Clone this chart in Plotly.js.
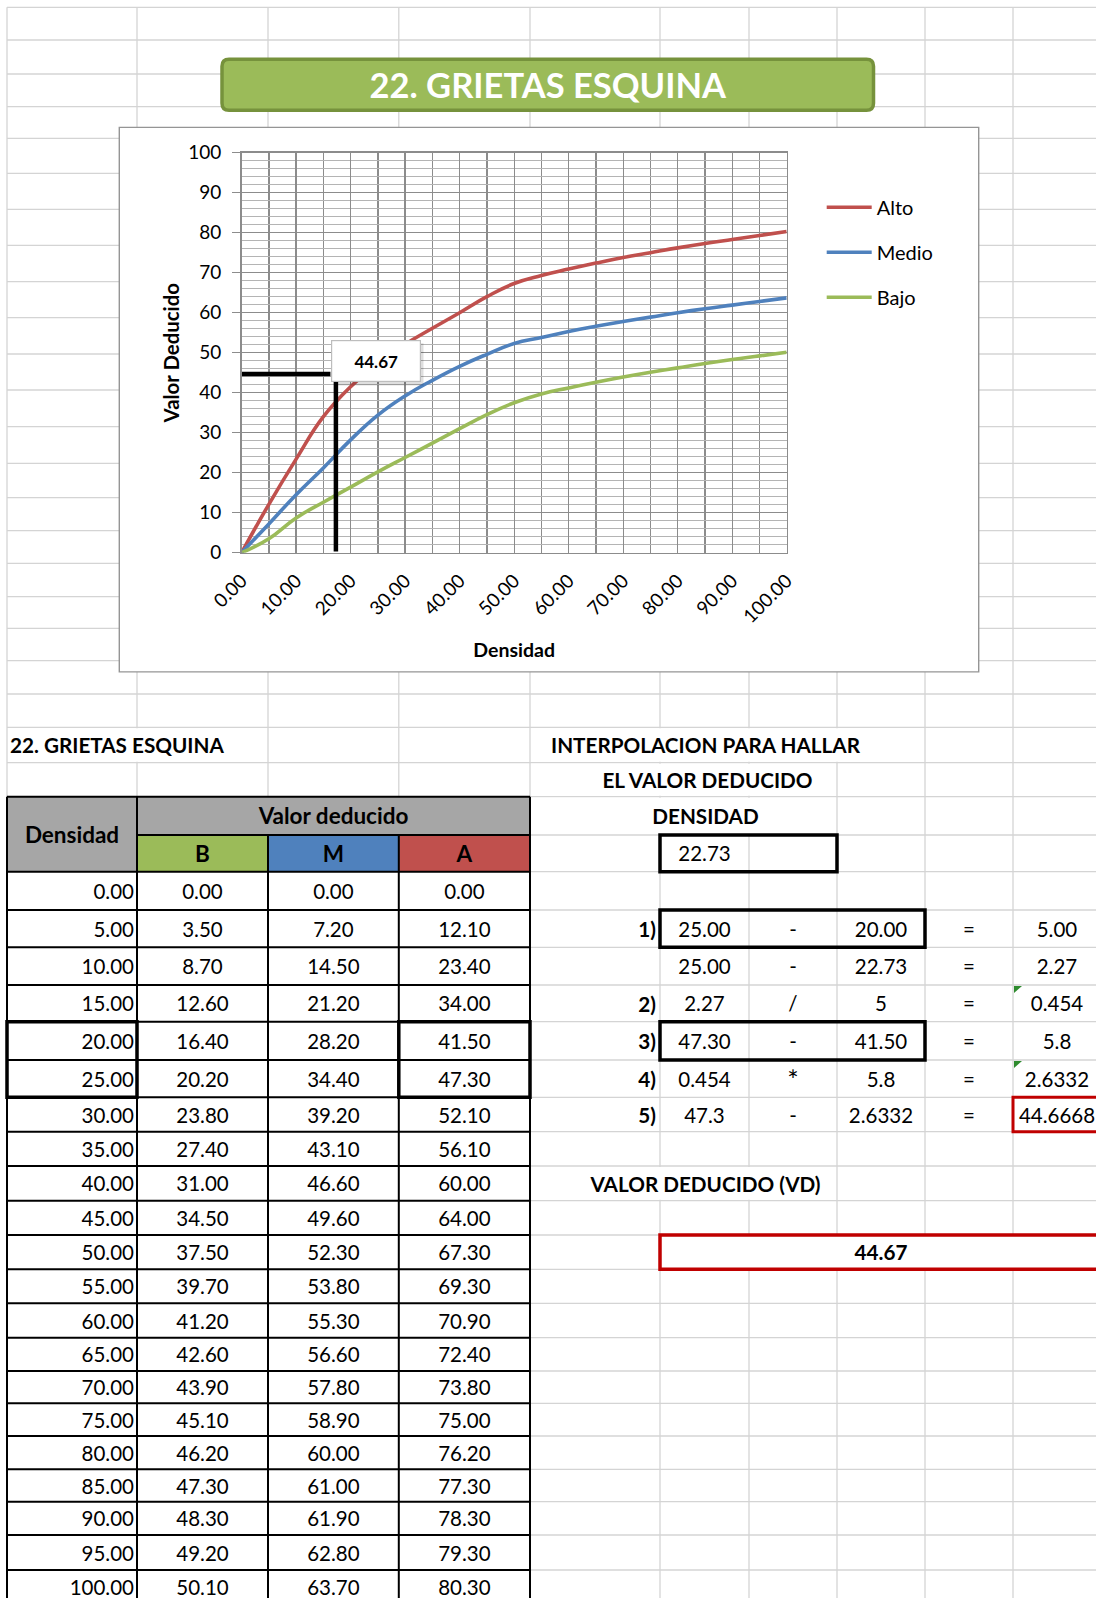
<!DOCTYPE html>
<html>
<head>
<meta charset="utf-8">
<script src="https://cdn.plot.ly/plotly-3.0.1.min.js"></script>
<style>html,body{margin:0;padding:0;background:#fff;}#chart{width:1096px;height:1598px;}</style>
</head>
<body>
<div id="chart"></div>
<script>
// ================= DATA =================
const densidad = [0, 5, 10, 15, 20, 25, 30, 35, 40, 45, 50, 55, 60, 65, 70, 75, 80, 85, 90, 95, 100];
const bajo  = [0.00, 3.50, 8.70, 12.60, 16.40, 20.20, 23.80, 27.40, 31.00, 34.50, 37.50, 39.70, 41.20, 42.60, 43.90, 45.10, 46.20, 47.30, 48.30, 49.20, 50.10];
const medio = [0.00, 7.20, 14.50, 21.20, 28.20, 34.40, 39.20, 43.10, 46.60, 49.60, 52.30, 53.80, 55.30, 56.60, 57.80, 58.90, 60.00, 61.00, 61.90, 62.80, 63.70];
const alto  = [0.00, 12.10, 23.40, 34.00, 41.50, 47.30, 52.10, 56.10, 60.00, 64.00, 67.30, 69.30, 70.90, 72.40, 73.80, 75.00, 76.20, 77.30, 78.30, 79.30, 80.30];

const seriesNames = ['Alto', 'Medio', 'Bajo'];
const xTickVals = [0, 10, 20, 30, 40, 50, 60, 70, 80, 90, 100];
const xTickText = ['0.00', '10.00', '20.00', '30.00', '40.00', '50.00', '60.00', '70.00', '80.00', '90.00', '100.00'];
const yTickVals = [0, 10, 20, 30, 40, 50, 60, 70, 80, 90, 100];
const chartTitle = '22. GRIETAS ESQUINA';
const xTitle = 'Densidad';
const yTitle = 'Valor Deducido';

// interpolation guide drawn on the chart
const vdValue = 44.67;
const vdLabel = '44.67';
const guideHX = [0, 16.3];
const guideVX = [17.3, 17.3];
const guideVY = [0.3, 43.4];
const labelAt = [24.7, 47.8];

// spreadsheet texts
const tableTitle = '22. GRIETAS ESQUINA';
const headDensidad = 'Densidad';
const headValor = 'Valor deducido';
const headCols = ['B', 'M', 'A'];
const interpTitles = ['INTERPOLACION PARA HALLAR', 'EL VALOR DEDUCIDO', 'DENSIDAD'];
const densValue = '22.73';
const stepLabels = ['1)', '', '2)', '3)', '4)', '5)'];
const stepA  = ['25.00', '25.00', '2.27', '47.30', '0.454', '47.3'];
const stepOp = ['-', '-', '/', '-', '*', '-'];
const stepB  = ['20.00', '22.73', '5', '41.50', '5.8', '2.6332'];
const stepEq = ['=', '=', '=', '=', '=', '='];
const stepR  = ['5.00', '2.27', '0.454', '5.8', '2.6332', '44.6668'];
const vdTitle = 'VALOR DEDUCIDO (VD)';
const vdResult = '44.67';

// ================= LAYOUT GEOMETRY (pixels) =================
const W = 1096, H = 1598;
const colX = [7, 137, 268, 398.8, 530, 660, 749, 837, 925, 1013, 1101];
const rowY = [7.3, 40, 74, 106.7, 138.3, 173.3, 209.3, 245.3, 281.7, 317.7, 354, 390, 426.7, 463.3, 497.7, 530.7,
  563.3, 596.7, 628.3, 660.7, 694, 727.3, 762.7, 796.7, 835, 871.7, 910, 947.3, 985, 1021.7, 1060, 1097.3, 1131.7,
  1166, 1200.7, 1235, 1269.3, 1303.3, 1337.7, 1371, 1403.3, 1436, 1469.3, 1501.7, 1535, 1570, 1604];
const R_TITLE = 21, R_HEAD = 23, R_SUB = 24, R_DATA = 25, R_VDT = 33, R_VD = 35;
const plotBox = {l: 241.6, r: 786.7, t: 152.7, b: 552.7};
const frame = {l: 119.3, r: 978.7, t: 127.4, b: 671.9};
const banner = {l: 222, r: 873.5, t: 59.3, b: 110.3, rad: 7};
const labelBox = {l: 331.7, r: 421, t: 340.7, b: 383};
const TEXT_DY = 3;

const FONT = 'Lato';
const C_ALTO = '#C0504D', C_MEDIO = '#4F81BD', C_BAJO = '#9BBB59';
const GRID = '#d4d4d4', MAJ = '#8c8c8c', MIN = '#b4b4b4', AX = '#8c8c8c';

// ================= SHAPES =================
const shapes = [];
function ln(x0, y0, x1, y1, color, width) {
  shapes.push({type: 'line', xref: 'x', yref: 'y', x0, y0, x1, y1, line: {color, width}, layer: 'below'});
}
function rc(x0, y0, x1, y1, fill, color, width, layer) {
  shapes.push({type: 'rect', xref: 'x', yref: 'y', x0, y0, x1, y1, fillcolor: fill || 'rgba(0,0,0,0)',
    line: {color: color || 'rgba(0,0,0,0)', width: width || 0}, layer: layer || 'below'});
}
function pth(d, fill, color, width) {
  shapes.push({type: 'path', xref: 'x', yref: 'y', path: d, fillcolor: fill, line: {color: color || 'rgba(0,0,0,0)', width: width || 0}, layer: 'below'});
}
const mid = (a, b) => (a + b) / 2;

// spreadsheet gridlines
rowY.forEach(y => { if (y < H) ln(colX[0], y, W, y, GRID, 1.3); });
colX.forEach(x => { if (x < W) ln(x, rowY[0], x, H, GRID, 1.3); });

// overflowing / merged text cells hide gridlines
rc(colX[0] + 1, rowY[R_TITLE] + 1, colX[2] - 1, rowY[R_TITLE + 1] - 1, '#fff');
rc(colX[4] + 1, rowY[R_TITLE] + 1, colX[8] - 1, rowY[R_TITLE + 1] - 1, '#fff');
rc(colX[4] + 1, rowY[R_TITLE + 1] + 1, colX[7] - 1, rowY[R_TITLE + 2] - 1, '#fff');
rc(colX[4] + 1, rowY[R_HEAD] + 1, colX[7] - 1, rowY[R_HEAD + 1] - 1, '#fff');
rc(colX[4] + 1, rowY[R_VDT] + 1, colX[7] - 1, rowY[R_VDT + 1] - 1, '#fff');

// chart frame
rc(frame.l, frame.t, frame.r, frame.b, '#ffffff', '#959595', 1.4);

// title banner (rounded)
(function () {
  const {l, r, t, b, rad} = banner;
  pth(`M${l + rad},${t} L${r - rad},${t} Q${r},${t} ${r},${t + rad} L${r},${b - rad} Q${r},${b} ${r - rad},${b} ` +
      `L${l + rad},${b} Q${l},${b} ${l},${b - rad} L${l},${t + rad} Q${l},${t} ${l + rad},${t} Z`,
      '#9BBB59', '#76923C', 3.5);
})();

// soft shadow behind the chart's data label
rc(labelBox.l + 2.5, labelBox.t + 2.5, labelBox.r + 2.5, labelBox.b + 2.5, 'rgba(0,0,0,0.13)', null, 0, 'above');

// table header fills
rc(colX[0], rowY[R_HEAD], colX[1], rowY[R_DATA], '#A6A6A6');
rc(colX[1], rowY[R_HEAD], colX[4], rowY[R_SUB], '#A6A6A6');
rc(colX[1], rowY[R_SUB], colX[2], rowY[R_DATA], C_BAJO);
rc(colX[2], rowY[R_SUB], colX[3], rowY[R_DATA], C_MEDIO);
rc(colX[3], rowY[R_SUB], colX[4], rowY[R_DATA], C_ALTO);
rc(colX[0], rowY[R_DATA], colX[4], H + 10, '#ffffff');

// table borders
const TB = '#000', TW = 2;
ln(colX[0], rowY[R_HEAD], colX[4], rowY[R_HEAD], TB, TW);
ln(colX[1], rowY[R_SUB], colX[4], rowY[R_SUB], TB, TW);
for (let i = 0; i <= densidad.length; i++) {
  const y = rowY[R_DATA + i];
  if (y < H) ln(colX[0], y, colX[4], y, TB, TW);
}
[0, 1, 4].forEach(c => ln(colX[c], rowY[R_HEAD], colX[c], H + 5, TB, TW));
[2, 3].forEach(c => ln(colX[c], rowY[R_SUB], colX[c], H + 5, TB, TW));
// thick boxes around the rows used for interpolation
rc(colX[0], rowY[R_DATA + 4], colX[1], rowY[R_DATA + 6], null, TB, 3.5);
rc(colX[3], rowY[R_DATA + 4], colX[4], rowY[R_DATA + 6], null, TB, 3.5);

// interpolation boxes
rc(colX[5], rowY[R_SUB], colX[7], rowY[R_DATA], null, TB, 3.5);
[0, 3].forEach(i => rc(colX[5], rowY[R_DATA + 1 + i], colX[8], rowY[R_DATA + 2 + i], null, TB, 3.5));
rc(colX[9], rowY[R_DATA + 6], W + 10, rowY[R_DATA + 7], null, '#C00000', 3);
rc(colX[5], rowY[R_VD], W + 10, rowY[R_VD + 1], '#ffffff', '#C00000', 3.5);
// green error indicators
[2, 4].forEach(i => {
  const x0 = colX[9] + 1, y0 = rowY[R_DATA + 1 + i] + 1;
  pth(`M${x0},${y0} L${x0 + 8},${y0} L${x0},${y0 + 7} Z`, '#2E8B2E');
});

// ================= TEXT TRACES (spreadsheet) =================
function textTrace(items, font) {
  return {type: 'scatter', mode: 'text', xaxis: 'x', yaxis: 'y', cliponaxis: false,
    x: items.map(d => d.x), y: items.map(d => d.y + TEXT_DY + (d.dy || 0)), text: items.map(d => d.t),
    textposition: items.map(d => d.p || 'middle center'),
    textfont: Object.assign({}, font, {size: items.map(d => d.s || font.size)}),
    marker: {size: 0}, hoverinfo: 'skip', showlegend: false};
}
const rowMid = r => mid(rowY[r], rowY[r + 1]);
const colMid = c => mid(colX[c], colX[c + 1]);
const IX = 705.5;

const headItems = [
  {x: mid(colX[0], colX[1]), y: mid(rowY[R_HEAD], rowY[R_DATA]), t: headDensidad},
  {x: mid(colX[1], colX[4]), y: rowMid(R_HEAD), t: headValor},
  {x: colMid(1), y: rowMid(R_SUB), t: headCols[0]},
  {x: colMid(2), y: rowMid(R_SUB), t: headCols[1]},
  {x: colMid(3), y: rowMid(R_SUB), t: headCols[2]}
];
const boldItems = [
  {x: 10, y: rowMid(R_TITLE), t: tableTitle, p: 'middle right'},
  {x: IX, y: rowMid(R_TITLE), t: interpTitles[0]},
  {x: IX + 2, y: rowMid(R_TITLE + 1), t: interpTitles[1]},
  {x: IX, y: rowMid(R_HEAD), t: interpTitles[2]},
  {x: IX, y: rowMid(R_VDT), t: vdTitle},
  {x: colMid(7), y: rowMid(R_VD), t: vdResult}
];
stepLabels.forEach((s, i) => { if (s) boldItems.push({x: colX[5] - 4, y: rowMid(R_DATA + 1 + i), t: s, p: 'middle left'}); });

const regItems = [];
densidad.forEach((d, i) => {
  const y = rowMid(R_DATA + i);
  regItems.push({x: colX[1] - 3, y, t: d.toFixed(2), p: 'middle left'});
  regItems.push({x: colMid(1), y, t: bajo[i].toFixed(2)});
  regItems.push({x: colMid(2), y, t: medio[i].toFixed(2)});
  regItems.push({x: colMid(3), y, t: alto[i].toFixed(2)});
});
regItems.push({x: colMid(5), y: rowMid(R_SUB), t: densValue});
stepA.forEach((v, i) => {
  const y = rowMid(R_DATA + 1 + i);
  regItems.push({x: colMid(5), y, t: stepA[i]});
  const isStar = stepOp[i] === '*';
  regItems.push({x: colMid(6), y, t: stepOp[i], s: isStar ? 27 : undefined, dy: isStar ? 2 : 0});
  regItems.push({x: colMid(7), y, t: stepB[i]});
  regItems.push({x: colMid(8), y, t: stepEq[i]});
  regItems.push({x: colMid(9), y, t: stepR[i]});
});

// ================= CHART TRACES =================
const chartLine = (y, name, color, grp) => ({
  type: 'scatter', mode: 'lines', x: densidad, y, name, xaxis: 'x2', yaxis: 'y2', legendgroup: grp,
  line: {color, width: 3.6, shape: 'spline', smoothing: 1.3}, hoverinfo: 'skip'
});

const data = [
  textTrace(headItems, {family: FONT, size: 22.5, color: '#000', weight: 700}),
  textTrace(boldItems, {family: FONT, size: 20.7, color: '#000', weight: 700}),
  textTrace(regItems, {family: FONT, size: 20.5, color: '#000'}),
  chartLine(alto, seriesNames[0], C_ALTO, 'a'),
  chartLine(medio, seriesNames[1], C_MEDIO, 'm'),
  chartLine(bajo, seriesNames[2], C_BAJO, 'b'),
  {type: 'scatter', mode: 'lines', xaxis: 'x2', yaxis: 'y2', showlegend: false, hoverinfo: 'skip',
   x: [guideHX[0], guideHX[1], null, guideVX[0], guideVX[1]],
   y: [vdValue, vdValue, null, guideVY[0], guideVY[1]],
   line: {color: '#000', width: 4.5}}
];

const layout = {
  width: W, height: H, margin: {l: 0, r: 0, t: 0, b: 0},
  paper_bgcolor: '#ffffff', plot_bgcolor: 'rgba(0,0,0,0)',
  font: {family: FONT, color: '#000'},
  title: {text: chartTitle, font: {family: FONT, size: 34.5, color: '#ffffff', weight: 700},
    x: mid(banner.l, banner.r) / W, xanchor: 'center', xref: 'paper',
    y: 1 - 85.5 / H, yanchor: 'middle', yref: 'paper'},
  xaxis: {domain: [0, 1], range: [0, W], visible: false, fixedrange: true},
  yaxis: {domain: [0, 1], range: [H, 0], visible: false, fixedrange: true},
  xaxis2: {domain: [plotBox.l / W, plotBox.r / W], anchor: 'y2', range: [0, 100], fixedrange: true,
    tickmode: 'array', tickvals: xTickVals, ticktext: xTickText, tickangle: -45,
    tickfont: {family: FONT, size: 19, color: '#000'}, ticks: '', ticklabelstandoff: 8,
    showgrid: true, gridcolor: MAJ, gridwidth: 1.3,
    minor: {tickmode: 'linear', tick0: 0, dtick: 5, showgrid: true, gridcolor: MAJ, gridwidth: 1.3},
    showline: true, linecolor: AX, linewidth: 1.4, mirror: true, zeroline: false,
    title: {text: xTitle, font: {family: FONT, size: 19.5, weight: 700, color: '#000'}, standoff: 17}},
  yaxis2: {domain: [1 - plotBox.b / H, 1 - plotBox.t / H], anchor: 'x2', range: [0, 100], fixedrange: true,
    tickmode: 'array', tickvals: yTickVals, ticks: 'outside', ticklen: 8, tickwidth: 1.3, tickcolor: AX,
    tickfont: {family: FONT, size: 19, color: '#000'}, ticklabelstandoff: 7,
    showgrid: true, gridcolor: MAJ, gridwidth: 1.3,
    minor: {tickmode: 'linear', tick0: 0, dtick: 2, showgrid: true, gridcolor: MIN, gridwidth: 1},
    showline: true, linecolor: AX, linewidth: 1.4, mirror: true, zeroline: false,
    title: {text: yTitle, font: {family: FONT, size: 20.4, weight: 700, color: '#000'}, standoff: 3}},
  showlegend: true,
  legend: {x: 821.7 / W, y: 1 - 187.8 / H, xanchor: 'left', yanchor: 'top', traceorder: 'grouped',
    tracegroupgap: 16, itemwidth: 45, bgcolor: 'rgba(0,0,0,0)', borderwidth: 0,
    font: {family: FONT, size: 20, color: '#000'}},
  annotations: [{
    xref: 'x2', yref: 'y2', x: labelAt[0], y: labelAt[1], text: '<b>' + vdLabel + '</b>', showarrow: false,
    font: {family: FONT, size: 17, color: '#000'}, bgcolor: '#ffffff', bordercolor: '#bdbdbd', borderwidth: 1.2,
    borderpad: 1, width: 86, height: 38, align: 'center', valign: 'middle'
  }],
  shapes: shapes
};

Plotly.newPlot('chart', data, layout, {displayModeBar: false, staticPlot: true});
</script>
</body>
</html>
